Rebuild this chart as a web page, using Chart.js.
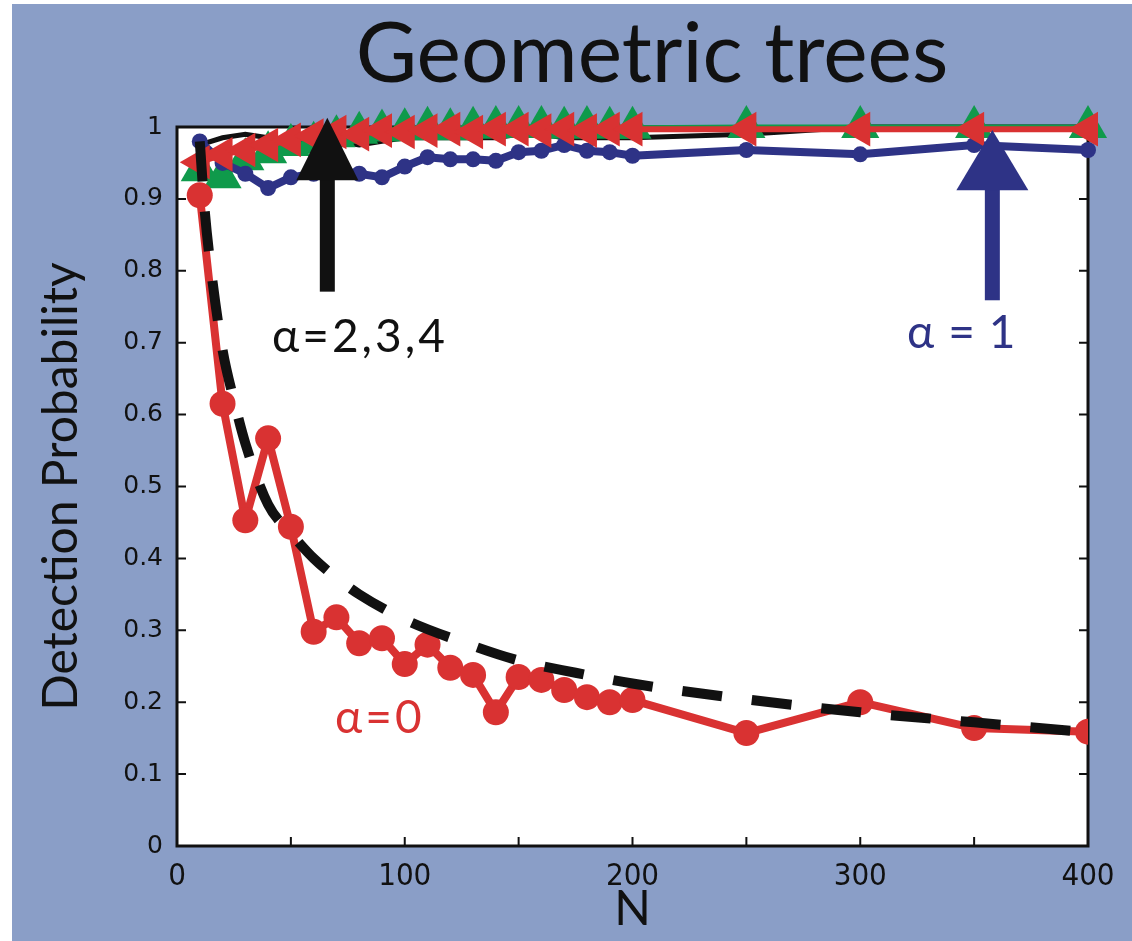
<!DOCTYPE html>
<html>
<head>
<meta charset="utf-8">
<title>Geometric trees</title>
<script src="https://cdn.jsdelivr.net/npm/chart.js@4.4.1/dist/chart.umd.min.js"></script>
<style>
  html, body { margin: 0; padding: 0; background: #fff; }
  #wrap { width: 1132px; height: 941px; }
</style>
</head>
<body>
<div id="wrap"><canvas id="treeChart" width="1132" height="941"></canvas></div>
<script>
// data
const nValues = [10, 20, 30, 40, 50, 60, 70, 80, 90, 100, 110, 120, 130, 140, 150, 160, 170, 180, 190, 200, 250, 300, 350, 400];
const alpha0 = [0.905, 0.615, 0.453, 0.567, 0.444, 0.298, 0.318, 0.282, 0.289, 0.253, 0.28, 0.248, 0.238, 0.186, 0.235, 0.231, 0.217, 0.207, 0.2, 0.203, 0.157, 0.2, 0.164, 0.159];
const alpha1 = [0.98, 0.95, 0.935, 0.915, 0.93, 0.935, 0.94, 0.935, 0.93, 0.945, 0.958, 0.955, 0.955, 0.953, 0.965, 0.967, 0.975, 0.967, 0.965, 0.96, 0.968, 0.962, 0.975, 0.968];
const alpha2 = [0.975, 0.985, 0.99, 0.985, 0.98, 0.985, 0.98, 0.975, 0.98, 0.985, 0.985, 0.985, 0.985, 0.985, 0.99, 0.99, 0.985, 0.985, 0.985, 0.985, 0.99, 1.0, 1.0, 1.0];
const alpha3 = [0.94, 0.93, 0.955, 0.965, 0.975, 0.978, 0.987, 0.992, 0.995, 0.997, 0.999, 0.997, 0.999, 1.0, 1.0, 1.0, 0.999, 1.0, 0.999, 0.999, 1.0, 1.0, 1.0, 1.0];
const alpha4 = [0.951, 0.962, 0.968, 0.975, 0.982, 0.988, 0.993, 0.99, 0.995, 0.993, 0.995, 0.997, 0.993, 0.997, 0.997, 0.995, 0.997, 0.995, 0.997, 0.997, 0.997, 0.997, 0.997, 0.997];
const fitN = [10, 12, 15, 20, 25, 30, 40, 50, 60, 70, 80, 100, 125, 150, 175, 200, 250, 300, 350, 400];
const fitValues = [0.98, 0.89, 0.80, 0.69, 0.62, 0.56, 0.475, 0.435, 0.40, 0.373, 0.35, 0.315, 0.284, 0.258, 0.241, 0.226, 0.204, 0.186, 0.172, 0.158];
const xLabels = [0, 100, 200, 300, 400];

const RED = '#d93232';
const BLUE = '#2e3386';
const GREEN = '#0f9a4b';
const BLACK = '#111111';
const PANEL = '#8a9ec7';
const MYRIAD = 'Lato, "Open Sans", sans-serif';
const NARROW = '"DejaVu Sans Condensed", "Liberation Sans Narrow", Lato, sans-serif';

function pts(xs, ys) {
    return xs.map((x, i) => ({ x: x, y: ys[i] }));
}

// arrows and labels placed in data units
const arrows = [
    { x: 66, tip: 1.013, base: 0.926, tail: 0.771, head: 31, shaft: 15, color: BLACK },
    { x: 358, tip: 0.996, base: 0.912, tail: 0.759, head: 36, shaft: 15, color: BLUE }
];
const notes = [
    { text: 'α=2,3,4', x: 41.7, y: 0.707, color: BLACK, spacing: '3px' },
    { text: 'α=1', x: 320.5, y: 0.713, color: BLUE, spacing: '14px' },
    { text: 'α=0', x: 69.4, y: 0.178, color: RED, spacing: '3px' }
];

const framePlugin = {
    id: 'frame',
    beforeDraw(chart) {
        const ctx = chart.ctx;
        const a = chart.chartArea;
        ctx.save();
        ctx.fillStyle = '#ffffff';
        ctx.fillRect(0, 0, chart.width, chart.height);
        ctx.fillStyle = PANEL;
        ctx.fillRect(12, 4, chart.width - 12, chart.height - 4);
        ctx.fillStyle = '#ffffff';
        ctx.fillRect(a.left, a.top, a.right - a.left, a.bottom - a.top);
        // title
        ctx.fillStyle = BLACK;
        ctx.font = '84px ' + MYRIAD;
        ctx.textAlign = 'center';
        ctx.textBaseline = 'alphabetic';
        ctx.fillText('Geometric trees', 652, 82);
        ctx.restore();
    },
    beforeDatasetsDraw(chart) {
        const ctx = chart.ctx;
        const a = chart.chartArea;
        const xs = chart.scales.x;
        const ys = chart.scales.y;
        ctx.save();
        ctx.strokeStyle = BLACK;
        ctx.lineWidth = 2;
        // inward tick marks on all four sides
        xs.ticks.forEach(t => {
            const px = xs.getPixelForValue(t.value);
            ctx.beginPath();
            ctx.moveTo(px, a.bottom); ctx.lineTo(px, a.bottom - 9);
            ctx.moveTo(px, a.top); ctx.lineTo(px, a.top + 9);
            ctx.stroke();
        });
        ys.ticks.forEach(t => {
            const py = ys.getPixelForValue(t.value);
            ctx.beginPath();
            ctx.moveTo(a.left, py); ctx.lineTo(a.left + 9, py);
            ctx.moveTo(a.right, py); ctx.lineTo(a.right - 9, py);
            ctx.stroke();
        });
        ctx.lineWidth = 3;
        ctx.strokeRect(a.left, a.top, a.right - a.left, a.bottom - a.top);
        ctx.restore();
    },
    afterDatasetsDraw(chart) {
        const ctx = chart.ctx;
        const xs = chart.scales.x;
        const ys = chart.scales.y;
        ctx.save();
        arrows.forEach(ar => {
            const px = xs.getPixelForValue(ar.x);
            const tip = ys.getPixelForValue(ar.tip);
            const base = ys.getPixelForValue(ar.base);
            const tail = ys.getPixelForValue(ar.tail);
            ctx.fillStyle = ar.color;
            ctx.fillRect(px - ar.shaft / 2, base - 1, ar.shaft, tail - base + 1);
            ctx.beginPath();
            ctx.moveTo(px, tip);
            ctx.lineTo(px + ar.head, base);
            ctx.lineTo(px - ar.head, base);
            ctx.closePath();
            ctx.fill();
        });
        ctx.font = '46px ' + MYRIAD;
        ctx.textAlign = 'left';
        ctx.textBaseline = 'middle';
        notes.forEach(n => {
            ctx.fillStyle = n.color;
            ctx.letterSpacing = n.spacing;
            ctx.fillText(n.text, xs.getPixelForValue(n.x), ys.getPixelForValue(n.y));
        });
        ctx.restore();
    }
};

new Chart(document.getElementById('treeChart'), {
    type: 'line',
    data: {
        datasets: [
            {
                label: 'fit',
                data: pts(fitN, fitValues),
                borderColor: BLACK,
                borderWidth: 10,
                borderDash: [40, 30],
                borderCapStyle: 'butt',
                cubicInterpolationMode: 'monotone',
                pointRadius: 0
            },
            {
                label: 'α=0',
                data: pts(nValues, alpha0),
                borderColor: RED,
                backgroundColor: RED,
                borderWidth: 8,
                borderJoinStyle: 'round',
                pointRadius: 13,
                pointBorderWidth: 0,
                pointBackgroundColor: RED
            },
            {
                label: 'α=4',
                data: pts(nValues, alpha4),
                borderColor: RED,
                borderWidth: 6,
                pointStyle: 'triangle',
                rotation: -90,
                pointRadius: 20,
                pointBorderWidth: 0,
                pointBackgroundColor: RED,
                clip: false
            },
            {
                label: 'α=1',
                data: pts(nValues, alpha1),
                borderColor: BLUE,
                borderWidth: 8,
                borderJoinStyle: 'round',
                pointRadius: 8,
                pointBorderWidth: 0,
                pointBackgroundColor: BLUE,
                clip: false
            },
            {
                label: 'α=3',
                data: pts(nValues, alpha3),
                borderColor: GREEN,
                borderWidth: 5,
                pointStyle: 'triangle',
                pointRadius: 22,
                pointBorderWidth: 0,
                pointBackgroundColor: GREEN,
                clip: false
            },
            {
                label: 'α=2',
                data: pts(nValues, alpha2),
                borderColor: BLACK,
                borderWidth: 5,
                pointRadius: 0,
                clip: false
            }
        ]
    },
    options: {
        responsive: false,
        devicePixelRatio: 1,
        animation: false,
        layout: {
            padding: { left: 0, right: 44, top: 127, bottom: 0 }
        },
        plugins: {
            legend: { display: false },
            tooltip: { enabled: false },
            title: { display: false }
        },
        scales: {
            x: {
                type: 'linear',
                min: 0,
                max: 400,
                afterFit: function(scale) { scale.height = 95; },
                ticks: {
                    stepSize: 50,
                    autoSkip: false,
                    maxRotation: 0,
                    padding: 12,
                    color: BLACK,
                    font: { family: NARROW, size: 31 },
                    callback: function(v) { return xLabels.includes(v) ? String(v) : ''; }
                },
                grid: { drawOnChartArea: false, drawTicks: false },
                border: { display: false },
                title: {
                    display: true,
                    text: 'N',
                    color: BLACK,
                    font: { family: MYRIAD, size: 48, lineHeight: 1.2 },
                    padding: { top: 0, bottom: 3 }
                }
            },
            y: {
                min: 0,
                max: 1,
                afterFit: function(scale) { scale.width = 177; },
                ticks: {
                    stepSize: 0.1,
                    padding: 14,
                    color: BLACK,
                    font: { family: '"DejaVu Sans", sans-serif', size: 25 },
                    callback: function(v) {
                        if (v === 0 || v === 1) return String(v);
                        return v.toFixed(1);
                    }
                },
                grid: { drawOnChartArea: false, drawTicks: false },
                border: { display: false },
                title: {
                    display: true,
                    text: 'Detection Probability',
                    color: BLACK,
                    font: { family: MYRIAD, size: 48, lineHeight: 1.2 },
                    padding: { top: 33, bottom: 0 }
                }
            }
        }
    },
    plugins: [framePlugin]
});
</script>
</body>
</html>
